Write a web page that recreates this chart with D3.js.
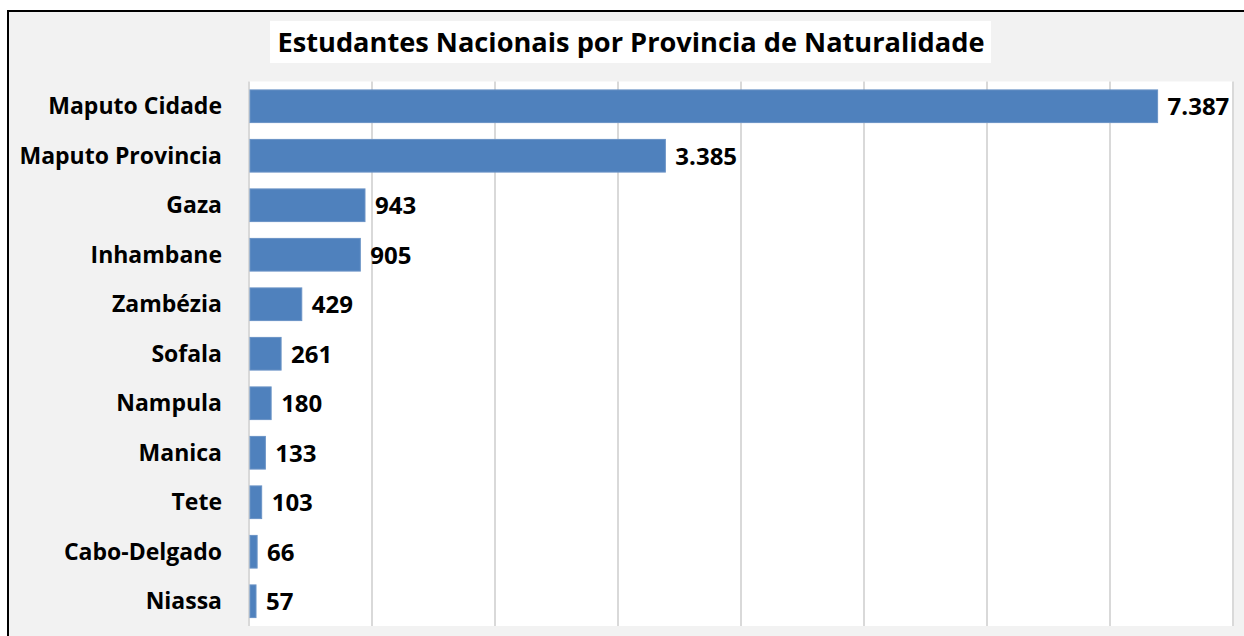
<!DOCTYPE html>
<html>
<head>
<meta charset="utf-8">
<script src="https://cdn.jsdelivr.net/npm/d3@7"></script>
<style>
  body { margin: 0; background: #fff; }
  text { font-family: "Open Sans", "Noto Sans", sans-serif; font-weight: bold; fill: #000; }
</style>
</head>
<body>
<svg id="chart" width="1244" height="636"></svg>
<script>
// provinces and number of students
var provinces = ["Maputo Cidade", "Maputo Provincia", "Gaza", "Inhambane", "Zambézia", "Sofala", "Nampula", "Manica", "Tete", "Cabo-Delgado", "Niassa"];
var students = [7387, 3385, 943, 905, 429, 261, 180, 133, 103, 66, 57];
var ticks = [0, 1000, 2000, 3000, 4000, 5000, 6000, 7000, 8000];
var title = "Estudantes Nacionais por Provincia de Naturalidade";

var data = provinces.map(function(p, i) { return {name: p, value: students[i]}; });

var svg = d3.select("#chart");

//outer frame
svg.append("rect").attr("x", 0).attr("y", 0).attr("width", 1244).attr("height", 636).attr("fill", "#fff");
svg.append("rect").attr("x", 8).attr("y", 11).attr("width", 1260).attr("height", 640)
    .attr("fill", "#f2f2f2").attr("stroke", "#000").attr("stroke-width", 2);

var plotLeft = 249, plotRight = 1233, plotTop = 81.5, plotBottom = 626;

var x = d3.scaleLinear().domain([0, 8000]).range([plotLeft, plotRight]);
var y = d3.scaleBand().domain(provinces).range([plotTop, plotBottom]).paddingInner(0.34).paddingOuter(0.17);

//plot area
svg.append("rect").attr("x", plotLeft).attr("y", plotTop)
    .attr("width", plotRight - plotLeft).attr("height", plotBottom - plotTop).attr("fill", "#fff");

//grid lines
svg.append("g").selectAll("line")
    .data(ticks)
    .enter().append("line")
    .attr("x1", function(d) { return x(d); })
    .attr("x2", function(d) { return x(d); })
    .attr("y1", plotTop)
    .attr("y2", plotBottom)
    .attr("stroke", "#d9d9d9")
    .attr("stroke-width", 2);

//bars
svg.append("g").selectAll("rect")
    .data(data)
    .enter().append("rect")
    .attr("x", x(0) + 1)
    .attr("y", function(d) { return y(d.name); })
    .attr("width", function(d) { return x(d.value) - x(0) - 1; })
    .attr("height", y.bandwidth())
    .attr("fill", "#4f81bd")
    .attr("stroke", "#6a93c6")
    .attr("stroke-width", 1);

//value labels
svg.append("g").selectAll("text")
    .data(data)
    .enter().append("text")
    .attr("x", function(d) { return x(d.value) + 10; })
    .attr("y", function(d) { return y(d.name) + y.bandwidth() / 2 + 9; })
    .style("font-size", "24px")
    .text(function(d) { return d3.format(",")(d.value).replace(",", "."); });

//category labels
svg.append("g").selectAll("text")
    .data(data)
    .enter().append("text")
    .attr("x", 222)
    .attr("y", function(d) { return y(d.name) + y.bandwidth() / 2 + 8; })
    .attr("text-anchor", "end")
    .style("font-size", "23px")
    .text(function(d) { return d.name; });

//title
svg.append("rect").attr("x", 270).attr("y", 21).attr("width", 721).attr("height", 42).attr("fill", "#fff");
svg.append("text")
    .attr("x", 631)
    .attr("y", 52)
    .attr("text-anchor", "middle")
    .style("font-size", "27.2px")
    .text(title);
</script>
</body>
</html>
